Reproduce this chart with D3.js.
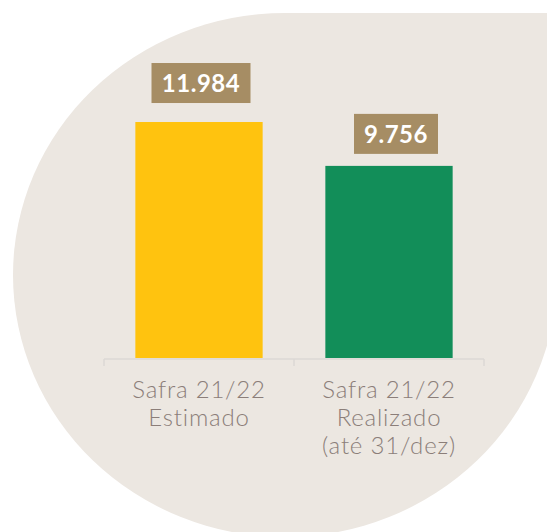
<!DOCTYPE html>
<html>
<head>
<meta charset="utf-8">
<script src="https://cdn.jsdelivr.net/npm/d3@7"></script>
<style>
  html, body { margin: 0; padding: 0; background: #fff; }
  svg { display: block; }
</style>
</head>
<body>
<svg id="chart" width="547" height="532"></svg>
<script>
// data
var categories = ['Safra 21/22 Estimado', 'Safra 21/22 Realizado (até 31/dez)'];
var catLines = [['Safra 21/22', 'Estimado'], ['Safra 21/22', 'Realizado', '(até 31/dez)']];
var values = [11984, 9756];
var valueLabels = ['11.984', '9.756'];
var barColors = ['#ffc30f', '#128e59'];

var svg = d3.select('#chart');

// beige backdrop: ellipse with a square top-right corner
var cx = 285, cy = 275, rx = 272, ry = 262;
svg.append('path')
  .attr('d', 'M' + cx + ',' + (cy - ry) +
    ' L' + (cx + rx) + ',' + (cy - ry) +
    ' L' + (cx + rx) + ',' + cy +
    ' A' + rx + ',' + ry + ' 0 1 1 ' + cx + ',' + (cy - ry) + ' Z')
  .attr('fill', '#ece7e1');

var x = d3.scaleBand()
  .domain(categories)
  .range([104, 484])
  .paddingInner(0.33)
  .paddingOuter(0.165);

var y = d3.scaleLinear()
  .domain([0, 12000])
  .range([358, 121.7]);

// axis line with ticks at band boundaries
var axis = svg.append('g').attr('class', 'axis');
var base = y(0) + 1;
axis.append('line')
  .attr('x1', x.range()[0]).attr('x2', x.range()[1])
  .attr('y1', base).attr('y2', base)
  .attr('stroke', '#dcd8d4').attr('stroke-width', 1.5);
axis.selectAll('line.tick')
  .data(d3.range(categories.length + 1))
  .enter().append('line')
    .attr('class', 'tick')
    .attr('x1', function(i) { return x.range()[0] + i * x.step(); })
    .attr('x2', function(i) { return x.range()[0] + i * x.step(); })
    .attr('y1', base)
    .attr('y2', base + 7)
    .attr('stroke', '#dcd8d4').attr('stroke-width', 1.5);

// bars
svg.selectAll('rect.bar')
  .data(values)
  .enter().append('rect')
    .attr('class', 'bar')
    .attr('x', function(d, i) { return x(categories[i]); })
    .attr('y', function(d) { return y(d); })
    .attr('width', x.bandwidth())
    .attr('height', function(d) { return y(0) - y(d); })
    .attr('fill', function(d, i) { return barColors[i]; });

// value labels in boxes
var labelW = [99, 84];
var labelDx = [2, 7];
var labelGap = [19, 12];
var lbl = svg.selectAll('g.vlabel')
  .data(values)
  .enter().append('g')
    .attr('class', 'vlabel')
    .attr('transform', function(d, i) {
      var c = x(categories[i]) + x.bandwidth() / 2 + labelDx[i];
      return 'translate(' + c + ',' + (y(d) - labelGap[i] - 40) + ')';
    });
lbl.append('rect')
  .attr('x', function(d, i) { return -labelW[i] / 2; })
  .attr('y', 0)
  .attr('width', function(d, i) { return labelW[i]; })
  .attr('height', 40)
  .attr('fill', '#a68d64');
lbl.append('text')
  .attr('x', 0)
  .attr('y', 29)
  .attr('text-anchor', 'middle')
  .attr('fill', '#ffffff')
  .style('font-family', 'Lato, sans-serif')
  .style('font-weight', 'bold')
  .style('font-size', '24px')
  .style('letter-spacing', '0.5px')
  .text(function(d, i) { return valueLabels[i]; });

// category labels
var cat = svg.selectAll('text.cat')
  .data(categories)
  .enter().append('text')
    .attr('class', 'cat')
    .attr('text-anchor', 'middle')
    .attr('fill', '#8b7e79')
    .style('font-family', 'Lato, sans-serif')
    .style('font-weight', '300')
    .style('font-size', '24px')
    .style('letter-spacing', '0.8px')
    .attr('x', function(d) { return x(d) + x.bandwidth() / 2; })
    .attr('y', 398);
cat.selectAll('tspan')
  .data(function(d, i) { return catLines[i]; })
  .enter().append('tspan')
    .attr('x', function() { return d3.select(this.parentNode).attr('x'); })
    .attr('dy', function(d, j) { return j === 0 ? 0 : 28; })
    .text(function(d) { return d; });
</script>
</body>
</html>
